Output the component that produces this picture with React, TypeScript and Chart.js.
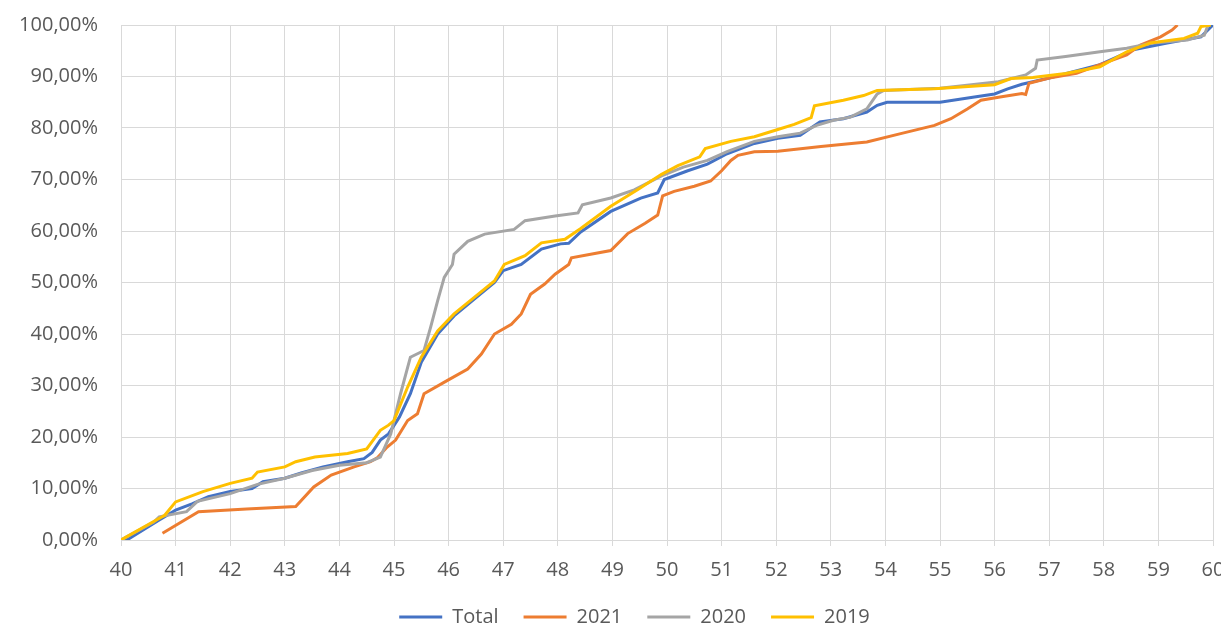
import React, { useEffect, useRef } from "react";
import { Chart, registerables } from "chart.js";

Chart.register(...registerables);

const seriesNames = ["Total", "2021", "2020", "2019"];
const seriesColors = ["#4472C4", "#ED7D31", "#A5A5A5", "#FFC000"];

const totalX = [40, 40.15, 40.7, 41.0, 41.3, 41.6, 42.0, 42.4, 42.6, 43.0, 43.3, 43.7, 44.15, 44.45, 44.6, 44.75, 44.9, 45.1, 45.3, 45.5, 45.8, 46.1, 46.47, 46.84, 47.0, 47.33, 47.7, 48.05, 48.2, 48.42, 48.97, 49.52, 49.83, 49.95, 50.38, 50.74, 51.1, 51.6, 52.03, 52.44, 52.8, 53.23, 53.66, 53.85, 54.03, 55.0, 55.63, 56.0, 56.24, 56.5, 57.0, 57.93, 58.54, 59.16, 59.78, 60];
const totalY = [0, 0.3, 3.9, 5.8, 7, 8.4, 9.4, 10, 11.3, 12, 13, 14.2, 15.2, 15.8, 17, 19.4, 20.6, 23.9, 28.4, 34.5, 40, 43.5, 46.8, 50, 52.3, 53.5, 56.5, 57.5, 57.6, 59.8, 63.8, 66.4, 67.4, 70, 71.7, 73, 75, 77, 78, 78.6, 81.2, 81.8, 83.1, 84.4, 85, 85, 86, 86.6, 87.6, 88.5, 89.7, 92.3, 95.2, 96.5, 97.7, 100];

const y2021X = [40.76, 41.42, 42.3, 43.2, 43.53, 43.85, 44.27, 44.57, 44.7, 44.87, 45.03, 45.25, 45.43, 45.55, 45.98, 46.35, 46.6, 46.84, 47.15, 47.33, 47.5, 47.76, 47.95, 48.2, 48.25, 48.97, 49.28, 49.6, 49.83, 49.92, 50.13, 50.5, 50.8, 51.0, 51.17, 51.3, 51.6, 52.03, 52.82, 53.66, 54.28, 54.9, 55.2, 55.5, 55.75, 56.1, 56.5, 56.57, 56.63, 57.0, 57.5, 57.93, 58.42, 58.67, 59.04, 59.25, 59.35];
const y2021Y = [1.3, 5.5, 6, 6.5, 10.3, 12.6, 14.2, 15.2, 16, 18, 19.4, 23.2, 24.5, 28.4, 31, 33.2, 36.1, 40, 41.9, 43.9, 47.7, 49.7, 51.6, 53.5, 54.8, 56.2, 59.5, 61.5, 63.1, 66.8, 67.7, 68.7, 69.7, 71.7, 73.7, 74.7, 75.4, 75.5, 76.4, 77.3, 78.9, 80.5, 81.8, 83.7, 85.4, 86, 86.7, 86.5, 88.7, 89.7, 90.6, 92.3, 94.2, 96.1, 97.7, 99, 100];

const y2020X = [40, 40.6, 40.7, 41.2, 41.4, 42.0, 42.5, 43.0, 43.5, 44.0, 44.5, 44.75, 44.94, 45.12, 45.3, 45.55, 45.67, 45.8, 45.92, 46.07, 46.1, 46.35, 46.66, 47.2, 47.4, 47.95, 48.37, 48.45, 48.97, 49.4, 49.9, 50.3, 50.74, 51.1, 51.6, 52.03, 52.44, 52.74, 53.05, 53.36, 53.66, 53.85, 53.97, 55.0, 56.07, 56.57, 56.75, 56.78, 57.3, 57.93, 58.42, 58.9, 59.53, 59.84, 59.9, 59.92];
const y2020Y = [0, 3.5, 4.5, 5.5, 7.5, 9, 10.8, 12, 13.5, 14.5, 15, 16.1, 20.6, 28.4, 35.5, 36.8, 41.3, 46.5, 51, 53.5, 55.5, 58, 59.4, 60.3, 62, 62.9, 63.5, 65.1, 66.4, 68, 70.7, 72.4, 73.7, 75.4, 77.4, 78.3, 79, 80.5, 81.5, 82.1, 83.7, 86.6, 87.3, 87.7, 89, 90.3, 91.6, 93.2, 93.9, 94.8, 95.5, 96.5, 97.1, 98, 99.7, 100];

const y2019X = [40, 40.1, 40.5, 40.8, 41.0, 41.5, 42.0, 42.4, 42.5, 43.0, 43.2, 43.55, 44.15, 44.5, 44.75, 44.9, 45.0, 45.25, 45.5, 45.8, 46.1, 46.47, 46.84, 47.02, 47.4, 47.7, 48.13, 48.42, 48.97, 49.46, 49.9, 50.2, 50.6, 50.7, 51.17, 51.6, 52.03, 52.33, 52.64, 52.7, 53.23, 53.6, 53.85, 54.9, 56.0, 56.3, 56.7, 57.3, 57.93, 58.42, 58.85, 59.47, 59.72, 59.78, 59.96];
const y2019Y = [0, 0.6, 3, 4.8, 7.4, 9.4, 11, 12, 13.2, 14.2, 15.2, 16.1, 16.8, 17.7, 21.3, 22.3, 23.2, 29.7, 35.5, 40.6, 43.9, 47.1, 50.3, 53.5, 55.2, 57.7, 58.4, 60.5, 64.8, 68, 71, 72.7, 74.4, 76, 77.4, 78.3, 79.7, 80.7, 82, 84.3, 85.4, 86.3, 87.3, 87.6, 88.4, 89.6, 89.8, 90.6, 91.9, 94.8, 96.5, 97.4, 98.4, 99.7, 100];

const xMin = 40;
const xMax = 60;
const yMax = 100;

const seriesX = [totalX, y2021X, y2020X, y2019X];
const seriesY = [totalY, y2021Y, y2020Y, y2019Y];

const FONT = "'Open Sans', sans-serif";
const TEXT = "#595959";
const GRID = "#d9d9d9";

const shiftLegend = {
  id: "shiftLegend",
  afterLayout(chart: any) {
    const l = chart.legend;
    if (l) {
      l.left += 28;
      l.right += 28;
    }
  },
};

export default function App() {
  const ref = useRef<HTMLCanvasElement>(null);
  useEffect(() => {
    document.body.style.margin = "0";
    const canvas = ref.current!;
    const datasets = seriesNames.map((name, i) => ({
      label: name,
      data: seriesX[i].map((x, j) => ({ x, y: seriesY[i][j] })),
      borderColor: seriesColors[i],
      backgroundColor: seriesColors[i],
      borderWidth: 3,
      pointRadius: 0,
      tension: 0,
      fill: false,
      order: 3 - i,
    }));
    const chart = new Chart(canvas, {
      type: "line",
      data: { datasets },
      plugins: [shiftLegend],
      options: {
        animation: false,
        responsive: false,
        maintainAspectRatio: false,
        layout: { padding: { left: 0, right: 8, top: 25, bottom: -11 } },
        scales: {
          x: {
            type: "linear",
            min: xMin,
            max: xMax,
            ticks: {
              stepSize: 1,
              color: TEXT,
              font: { family: FONT, size: 20 },
              padding: 12,
              maxRotation: 0,
              autoSkip: false,
            },
            grid: { color: GRID, tickLength: 6, drawTicks: true, tickColor: GRID },
            border: { color: GRID },
            afterFit: (s: any) => {
              s.height = 42;
              s.paddingLeft = 0;
              s.paddingRight = 0;
            },
          },
          y: {
            min: 0,
            max: yMax,
            ticks: {
              stepSize: 10,
              color: TEXT,
              font: { family: FONT, size: 20 },
              padding: 23,
              callback: (v: any) => Number(v).toFixed(2).replace(".", ",") + "%",
            },
            grid: { color: GRID, drawTicks: false },
            border: { color: GRID },
            afterFit: (s: any) => {
              s.width = 121;
              s.paddingTop = 0;
              s.paddingBottom = 0;
            },
          },
        },
        plugins: {
          tooltip: { enabled: false },
          legend: {
            position: "bottom",
            labels: {
              boxWidth: 43,
              boxHeight: 3,
              padding: 25,
              color: TEXT,
              font: { family: FONT, size: 20 },
              sort: (a: any, b: any) => a.datasetIndex - b.datasetIndex,
              generateLabels: (c: any) =>
                Chart.defaults.plugins.legend.labels
                  .generateLabels(c)
                  .map((l: any) => ({ ...l, lineWidth: 0 })),
            },
          },
        },
      },
    });
    return () => chart.destroy();
  }, []);
  return (
    <div style={{ width: 1221, height: 626 }}>
      <canvas ref={ref} width={1221} height={626} style={{ display: "block" }} />
    </div>
  );
}
